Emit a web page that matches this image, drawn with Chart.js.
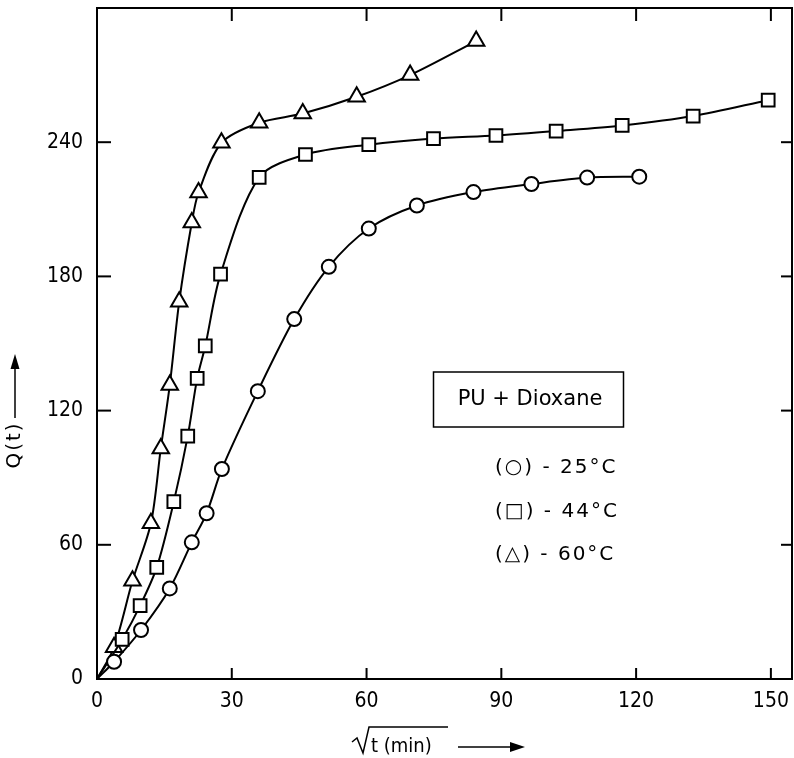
<!DOCTYPE html>
<html>
<head>
<meta charset="utf-8">
<script src="https://cdn.jsdelivr.net/npm/chart.js@4.4.1/dist/chart.umd.min.js"></script>
<style>
html,body{margin:0;padding:0;background:#fff;}
#wrap{width:794px;height:758px;position:relative;}
</style>
</head>
<body>
<div id="wrap"><canvas id="c" width="794" height="758"></canvas></div>
<script>
// ---- data ----
const xTicks = [0, 30, 60, 90, 120, 150];
const yTicks = [0, 60, 120, 180, 240];

const x25 = [0, 3.8, 9.8, 16.2, 21.1, 24.4, 27.8, 35.8, 43.9, 51.6, 60.5, 71.2, 83.8, 96.7, 109.1, 120.7];
const y25 = [0, 7.7, 21.9, 40.5, 61.1, 74.1, 93.9, 128.7, 160.9, 184.3, 201.4, 211.7, 217.7, 221.3, 224.2, 224.6];

const x44 = [0, 5.6, 9.6, 13.3, 17.1, 20.2, 22.3, 24.1, 27.5, 36.1, 46.4, 60.5, 74.9, 88.8, 102.2, 116.9, 132.7, 149.4];
const y44 = [0, 17.7, 32.8, 49.9, 79.3, 108.6, 134.4, 148.9, 181.0, 224.3, 234.5, 238.9, 241.6, 243.0, 245.0, 247.5, 251.7, 258.8];

const x60 = [0, 3.8, 7.9, 12.0, 14.2, 16.2, 18.3, 21.1, 22.6, 27.7, 36.1, 45.8, 57.8, 69.7, 84.4];
const y60 = [0, 14.2, 43.9, 69.6, 103.1, 131.4, 168.7, 204.1, 217.5, 239.7, 248.7, 252.8, 260.3, 270.0, 285.2];

const legendTitle = "PU + Dioxane";
const legendLines = ["(○) - 25°C", "(□) - 44°C", "(△) - 60°C"];
const xTitle = "t (min)";
const yTitle = "Q(t)";

const FONT = "'DejaVu Sans Condensed', 'Liberation Sans Narrow', 'DejaVu Sans', sans-serif";
const FONT2 = "'DejaVu Sans', sans-serif";

function pts(xs, ys){ return xs.map((x,i)=>({x:x, y:ys[i]})); }
function radii(n, r){ const a = new Array(n).fill(r); a[0] = 0; return a; }

function ds(xs, ys, style, r){
  return {
    data: pts(xs, ys),
    showLine: true,
    borderColor: '#000',
    borderWidth: 2,
    backgroundColor: '#fff',
    pointBackgroundColor: '#fff',
    pointBorderColor: '#000',
    pointBorderWidth: 2,
    pointStyle: style,
    pointRadius: radii(xs.length, r),
    pointHoverRadius: radii(xs.length, r),
    tension: 0.3,
    clip: false,
    fill: false
  };
}

function noPad(s){ s.paddingTop = 0; s.paddingBottom = 0; s.paddingLeft = 0; s.paddingRight = 0; }

const framePlugin = {
  id: 'frame',
  afterDraw(chart){
    const ctx = chart.ctx;
    const a = chart.chartArea;
    const xs = chart.scales.x, ys = chart.scales.y;
    ctx.save();
    ctx.strokeStyle = '#000';
    ctx.lineWidth = 2;
    ctx.strokeRect(a.left, a.top, a.right - a.left, a.bottom - a.top);
    // inward ticks on all four sides
    xTicks.forEach(v=>{
      if (v === 0) return;
      const px = xs.getPixelForValue(v);
      ctx.beginPath(); ctx.moveTo(px, a.bottom); ctx.lineTo(px, a.bottom - 11); ctx.stroke();
      ctx.beginPath(); ctx.moveTo(px, a.top); ctx.lineTo(px, a.top + 13); ctx.stroke();
    });
    yTicks.forEach(v=>{
      if (v === 0) return;
      const py = ys.getPixelForValue(v);
      ctx.beginPath(); ctx.moveTo(a.left, py); ctx.lineTo(a.left + 14, py); ctx.stroke();
      ctx.beginPath(); ctx.moveTo(a.right, py); ctx.lineTo(a.right - 11, py); ctx.stroke();
    });

    // legend box
    ctx.lineWidth = 1.5;
    ctx.strokeRect(433.5, 372, 190, 55);
    ctx.fillStyle = '#000';
    ctx.textAlign = 'center';
    ctx.textBaseline = 'middle';
    ctx.font = '21px ' + FONT2;
    ctx.fillText(legendTitle, 530, 400);
    ctx.textAlign = 'left';
    ctx.font = '20px ' + FONT2;
    try { ctx.letterSpacing = '2px'; } catch(e) {}
    const ly = [468, 512, 555];
    legendLines.forEach((t,i)=> ctx.fillText(t, 495, ly[i]));
    try { ctx.letterSpacing = '0px'; } catch(e) {}

    // x title with radical sign and arrow
    ctx.font = '20px ' + FONT;
    ctx.textBaseline = 'alphabetic';
    ctx.lineWidth = 1.5;
    ctx.beginPath();
    ctx.moveTo(352, 742); ctx.lineTo(357, 738); ctx.lineTo(363, 753); ctx.lineTo(369, 727); ctx.lineTo(448, 727);
    ctx.stroke();
    ctx.fillText(xTitle, 371, 752);
    ctx.beginPath(); ctx.moveTo(458, 747); ctx.lineTo(515, 747); ctx.stroke();
    ctx.beginPath(); ctx.moveTo(525, 747); ctx.lineTo(510, 742); ctx.lineTo(510, 752); ctx.closePath(); ctx.fill();

    // y title rotated with arrow
    ctx.save();
    ctx.translate(15, 445);
    ctx.rotate(-Math.PI/2);
    ctx.textAlign = 'center';
    ctx.textBaseline = 'middle';
    ctx.font = '20px ' + FONT2;
    try { ctx.letterSpacing = '2px'; } catch(e) {}
    ctx.fillText(yTitle, 0, 0);
    ctx.restore();
    ctx.beginPath(); ctx.moveTo(15, 418); ctx.lineTo(15, 365); ctx.stroke();
    ctx.beginPath(); ctx.moveTo(15, 354); ctx.lineTo(10.5, 369); ctx.lineTo(19.5, 369); ctx.closePath(); ctx.fill();
    ctx.restore();
  }
};

new Chart(document.getElementById('c'), {
  type: 'scatter',
  data: { datasets: [ ds(x25, y25, 'circle', 7), ds(x44, y44, 'rect', 9), ds(x60, y60, 'triangle', 9.5) ] },
  options: {
    responsive: false,
    animation: false,
    devicePixelRatio: 1,
    layout: { autoPadding: false, padding: { top: 8, right: 2, left: 0, bottom: 0 } },
    plugins: { legend: { display: false }, tooltip: { enabled: false } },
    scales: {
      x: {
        type: 'linear', min: 0, max: 154.7,
        afterBuildTicks(s){ s.ticks = xTicks.map(v=>({value:v})); },
        afterFit(s){ s.height = 79; noPad(s); },
        grid: { display: false, drawTicks: false },
        border: { display: false },
        ticks: { color: '#000', padding: 10, font: { size: 21, family: FONT }, maxRotation: 0 }
      },
      y: {
        type: 'linear', min: 0, max: 300,
        afterBuildTicks(s){ s.ticks = yTicks.map(v=>({value:v})); },
        afterFit(s){ s.width = 97; noPad(s); },
        grid: { display: false, drawTicks: false },
        border: { display: false },
        ticks: { color: '#000', padding: 14, font: { size: 21, family: FONT } }
      }
    }
  },
  plugins: [framePlugin]
});
</script>
</body>
</html>
